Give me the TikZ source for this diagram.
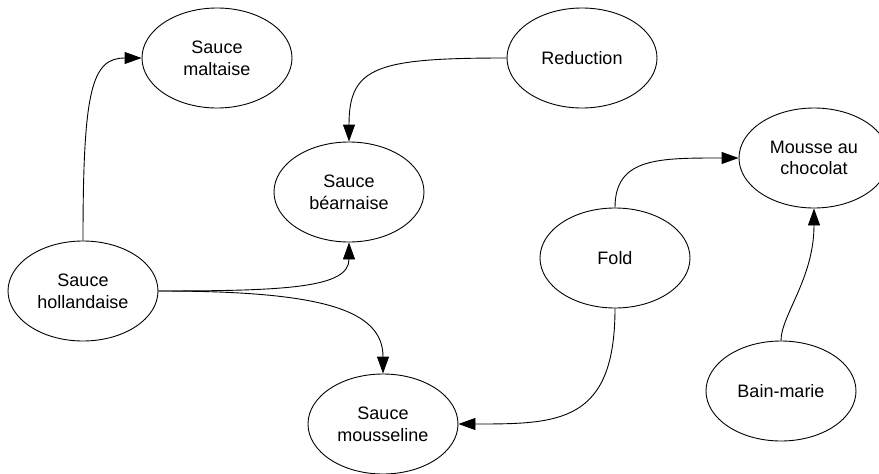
\documentclass[tikz,border=0pt]{standalone}
\usepackage{fontspec}
\setmainfont{Liberation Sans}
\usetikzlibrary{shapes.geometric,arrows.meta}
\begin{document}
\begin{tikzpicture}[x=1pt,y=-1pt,
  dish/.style={draw=black,line width=0.9pt,ellipse,minimum width=150pt,minimum height=100pt,inner sep=0pt,align=center,
    font=\fontsize{18}{21.7}\selectfont},
  conn/.style={draw=black,line width=0.9pt,-{Triangle[length=17pt,width=12pt]}}]
\useasboundingbox (0,0) rectangle (879,474);
\clip (0,0) rectangle (879,474);
\fill[white] (0,0) rectangle (879,474);
\node[dish] (malt) at (217,58) {Sauce\\maltaise};
\node[dish] (red) at (582,58) {Reduction};
\node[dish] (bear) at (349,192) {Sauce\\béarnaise};
\node[dish] (mousse) at (814,158) {Mousse au\\chocolat};
\node[dish] (fold) at (615,258) {Fold};
\node[dish] (holl) at (83,291) {Sauce\\hollandaise};
\node[dish] (mouss) at (383,424) {Sauce\\mousseline};
\node[dish] (bain) at (781,391) {Bain-marie};
\draw[conn] (holl.north) .. controls +(0,-150) and +(-50,0) .. (malt.west);
\draw[conn] (red.west) .. controls +(-130,0) and +(0,-75) .. (bear.north);
\draw[conn] (holl.east) .. controls +(130,0) and +(0,45) .. (bear.south);
\draw[conn] (holl.east) .. controls +(160,0) and +(0,-65) .. (mouss.north);
\draw[conn] (fold.north) .. controls +(0,-50) and +(-80,0) .. (mousse.west);
\draw[conn] (fold.south) .. controls +(0,115) and +(100,0) .. (mouss.east);
\draw[conn] (bain.north) .. controls +(0,-25) and +(0,70) .. (mousse.south);
\end{tikzpicture}
\end{document}
